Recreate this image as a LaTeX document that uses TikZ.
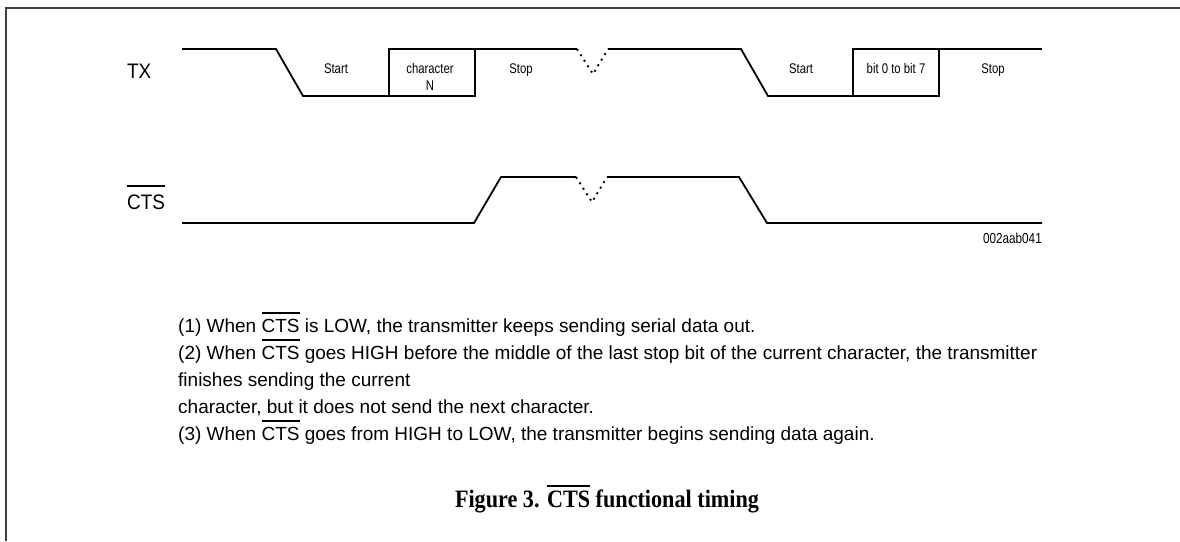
\documentclass[tikz,border=0pt]{standalone}
\usepackage{fontspec}
\usepackage{graphicx}
\setmainfont{Liberation Sans}
\newfontfamily\sansn{Liberation Sans}[FakeStretch=0.81]
\newfontfamily\sansw{Liberation Sans}[FakeStretch=0.9]
\newfontfamily\capfont{Liberation Serif}
\newcommand\ovl[3][1.0em]{\setbox0\hbox{#3}\rlap{\rule[#1]{\wd0}{#2}}\box0\relax}
\newlength\refw
\newlength\capw
\newcommand\notefont{\fontsize{19}{27}\selectfont}
\newcommand\captext{\capfont\bfseries\fontsize{25}{30}\selectfont Figure 3. \ovl[0.8em]{0.08em}{CTS} functional timing}
\begin{document}
\settowidth\refw{\notefont (2) When \ovl[0.97em]{0.07em}{CTS} goes HIGH before the middle of the last stop bit of the current character, the transmitter}%
\settowidth\capw{\captext}%
\pgfmathsetmacro\nfac{859/\refw}%
\pgfmathsetmacro\cfac{304/\capw}%
\begin{tikzpicture}[x=1pt,y=-1pt,
  sig/.style={line width=1.8pt,line join=miter},
  dots/.style={line width=1.9pt,dash pattern=on 1.9pt off 4.6pt},
  frame/.style={line width=1.6pt,black!75},
  wlbl/.style={font=\sansn\fontsize{14}{16}\selectfont,anchor=base,inner sep=0pt},
  rowlbl/.style={font=\sansw\fontsize{21}{24}\selectfont,anchor=base west,inner sep=0pt},
  note/.style={anchor=base west,inner sep=0pt},
  code/.style={font=\sansn\fontsize{14.5}{16}\selectfont,anchor=base east,inner sep=0pt}]
\useasboundingbox (0,0) rectangle (1180,541);
% frame
\draw[frame] (6,541) -- (6,8) -- (1180,8);
% row labels
\node[rowlbl] (tx) at (127,78) {TX};
\node[rowlbl] (cts) at (127,209) {\ovl[1.05em]{0.07em}{CTS}};
% TX waveform
\draw[sig] (182,49) -- (276,49) -- (303,96) -- (475,96) -- (475,49);
\draw[sig] (389,96) -- (389,49) -- (577,49);
\draw[dots] (577,49) -- (593,74) -- (608,49);
\draw[sig] (608,49) -- (741,49) -- (768,96) -- (939,96) -- (939,49);
\draw[sig] (853,96) -- (853,49) -- (1042,49);
% CTS waveform
\draw[sig] (182,223) -- (474,223) -- (501,177) -- (576,177);
\draw[dots] (576,177) -- (592,202) -- (607,177);
\draw[sig] (607,177) -- (739,177) -- (767,223) -- (1042,223);
% TX labels
\node[wlbl] (start1) at (336,73) {Start};
\node[wlbl] (charn1) at (430,73) {character};
\node[wlbl] (charn2) at (430,90) {N};
\node[wlbl] (stop1) at (521,73) {Stop};
\node[wlbl] (start2) at (801,73) {Start};
\node[wlbl] (bits) at (896,73) {bit 0 to bit 7};
\node[wlbl] (stop2) at (993,73) {Stop};
\node[code] (id) at (1042,243) {002aab041};
% notes
\node[note] (n1) at (178,332) {\notefont\scalebox{\nfac}[1]{(1) When \ovl[0.97em]{0.07em}{CTS} is LOW, the transmitter keeps sending serial data out.}};
\node[note] (n2) at (178,359) {\notefont\scalebox{\nfac}[1]{(2) When \ovl[0.97em]{0.07em}{CTS} goes HIGH before the middle of the last stop bit of the current character, the transmitter}};
\node[note] (n3) at (178,386) {\notefont\scalebox{\nfac}[1]{finishes sending the current}};
\node[note] (n4) at (178,413) {\notefont\scalebox{\nfac}[1]{character, but it does not send the next character.}};
\node[note] (n5) at (178,440) {\notefont\scalebox{\nfac}[1]{(3) When \ovl[0.97em]{0.07em}{CTS} goes from HIGH to LOW, the transmitter begins sending data again.}};
% caption
\node[anchor=base,inner sep=0pt] (cap) at (607,507) {\scalebox{\cfac}[1]{\captext}};
\end{tikzpicture}
\end{document}
